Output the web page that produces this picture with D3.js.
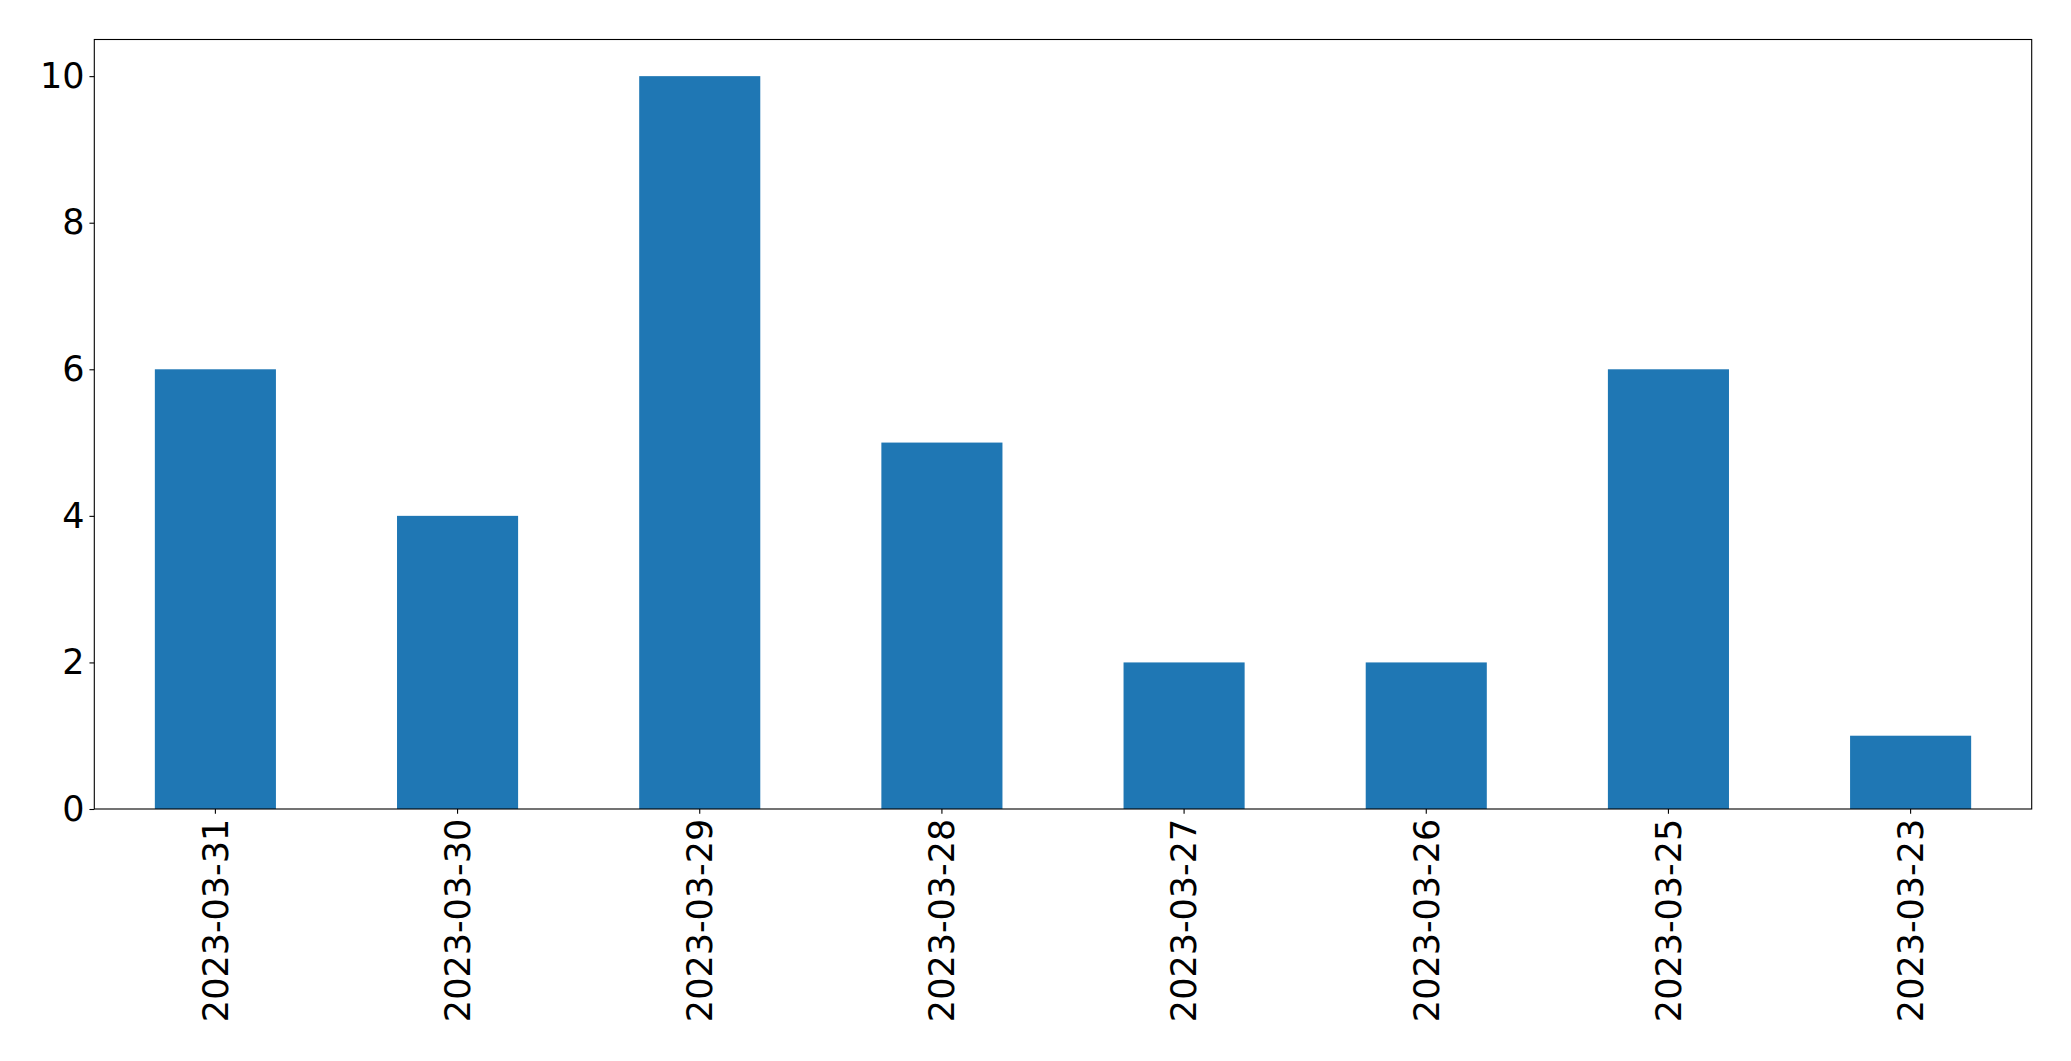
<!DOCTYPE html>
<html>
<head>
<meta charset="utf-8">
<script src="https://cdn.jsdelivr.net/npm/d3@7"></script>
<style>
  html, body { margin: 0; padding: 0; background: #fff; }
  svg { display: block; }
  text { font-family: "DejaVu Sans", sans-serif; fill: #000; }
</style>
</head>
<body>
<svg id="chart" width="2071" height="1061"></svg>
<script>
const categories = ["2023-03-31", "2023-03-30", "2023-03-29", "2023-03-28", "2023-03-27", "2023-03-26", "2023-03-25", "2023-03-23"];
const counts = [6, 4, 10, 5, 2, 2, 6, 1];
const yTicks = [0, 2, 4, 6, 8, 10];

const W = 2071, H = 1061;
const margin = { left: 94.3, right: 2071 - 2031.7, top: 39.5, bottom: 1061 - 809 };
const plotW = W - margin.left - margin.right;
const plotH = H - margin.top - margin.bottom;
const tickLen = 4.86, pad = 4.86, fontSize = 35;

const svg = d3.select("#chart");
const g = svg.append("g").attr("transform", `translate(${margin.left},${margin.top})`);

const x = d3.scaleBand().domain(categories).range([0, plotW]).paddingInner(0.5).paddingOuter(0.25);
const y = d3.scaleLinear().domain([0, 10.5]).range([plotH, 0]);

g.selectAll("rect.bar").data(categories).enter().append("rect")
  .attr("class", "bar")
  .attr("x", d => x(d))
  .attr("width", x.bandwidth())
  .attr("y", (d, i) => y(counts[i]))
  .attr("height", (d, i) => y(0) - y(counts[i]))
  .attr("fill", "#1f77b4");

// frame
g.append("rect").attr("x", 0).attr("y", 0).attr("width", plotW).attr("height", plotH)
  .attr("fill", "none").attr("stroke", "#000").attr("stroke-width", 1.1);

// y axis
const yAxis = d3.axisLeft(y).tickValues(yTicks).tickSize(tickLen).tickPadding(pad).tickFormat(d3.format("d"));
const yg = g.append("g").call(yAxis);
yg.select(".domain").remove();
yg.selectAll(".tick line").attr("stroke", "#000").attr("stroke-width", 1.1);
yg.selectAll(".tick text").attr("font-size", fontSize).attr("font-family", "DejaVu Sans").attr("fill", "#000");

// x axis
const xAxis = d3.axisBottom(x).tickSize(tickLen).tickPadding(pad);
const xg = g.append("g").attr("transform", `translate(0,${plotH})`).call(xAxis);
xg.select(".domain").remove();
xg.selectAll(".tick line").attr("stroke", "#000").attr("stroke-width", 1.1);
xg.selectAll(".tick text")
  .attr("font-size", fontSize).attr("font-family", "DejaVu Sans").attr("fill", "#000")
  .attr("transform", "rotate(-90)")
  .attr("x", -(tickLen + pad))
  .attr("y", 0)
  .attr("dy", "0.35em")
  .attr("text-anchor", "end");
</script>
</body>
</html>
